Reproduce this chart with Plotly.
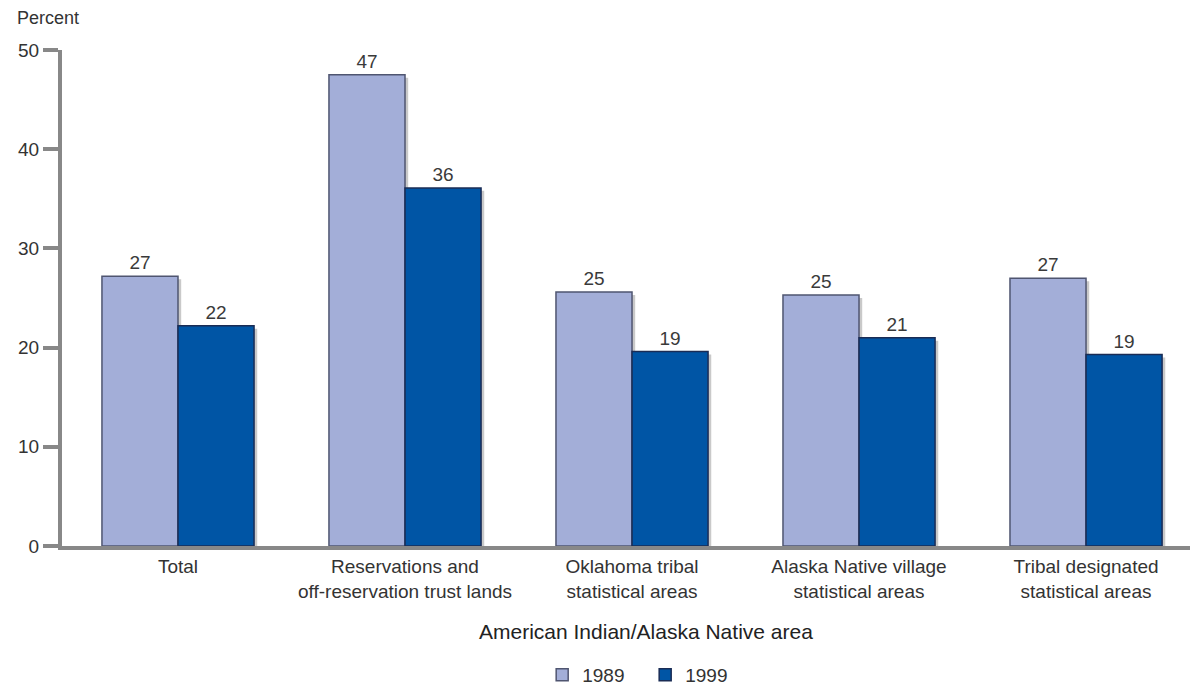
import plotly.graph_objects as go

categories = ["Total", "Reservations and<br>off-reservation trust lands",
              "Oklahoma tribal<br>statistical areas",
              "Alaska Native village<br>statistical areas",
              "Tribal designated<br>statistical areas"]
values_1989 = [27.2, 47.5, 25.6, 25.3, 27.0]
values_1999 = [22.2, 36.1, 19.6, 21.0, 19.3]
labels_1989 = ["27", "47", "25", "25", "27"]
labels_1999 = ["22", "36", "19", "21", "19"]
y_ticks = [0, 10, 20, 30, 40, 50]

x = list(range(len(categories)))
W = 0.335
SH = 0.014

fig = go.Figure()
# shadows
for vals, off in [(values_1989, -W + SH), (values_1999, SH)]:
    fig.add_trace(go.Bar(x=x, y=[v - 0.3 for v in vals], width=W, offset=off,
                         marker=dict(color="#c9c9c9", line=dict(width=0)),
                         showlegend=False, hoverinfo="skip"))
fig.add_trace(go.Bar(x=x, y=values_1989, width=W, offset=-W, name="1989",
                     marker=dict(color="#a3aed8", line=dict(color="#4f5570", width=1.5)),
                     text=labels_1989, textposition="outside", cliponaxis=False,
                     textfont=dict(size=19, color="#3a3a3a", family="Liberation Sans")))
fig.add_trace(go.Bar(x=x, y=values_1999, width=W, offset=0, name="1999",
                     marker=dict(color="#0055a5", line=dict(color="#1a2c55", width=1.5)),
                     text=labels_1999, textposition="outside", cliponaxis=False,
                     textfont=dict(size=19, color="#3a3a3a", family="Liberation Sans")))

fig.update_layout(
    width=1190, height=680,
    barmode="overlay",
    plot_bgcolor="white", paper_bgcolor="white",
    margin=dict(l=54, r=8, t=42, b=142, autoexpand=False),
    font=dict(family="Liberation Sans", color="#333333", size=19),
    showlegend=True,
    legend=dict(orientation="h", x=0.517, xanchor="center", y=-0.26, yanchor="middle",
                font=dict(size=19, color="#333333"), traceorder="normal",
                entrywidthmode="pixels", entrywidth=58),
    xaxis=dict(tickmode="array", tickvals=x, ticktext=categories,
               range=[-0.511, 4.458], showline=True, linecolor="#888888", linewidth=4,
               ticks="", showgrid=False, zeroline=False,
               tickfont=dict(size=19, color="#333333")),
    yaxis=dict(range=[0, 50], tickvals=y_ticks, showline=True, linecolor="#888888",
               linewidth=4, ticks="outside", ticklen=15, tickwidth=4, tickcolor="#888888",
               showgrid=False, zeroline=False,
               tickfont=dict(size=19, color="#333333")),
    annotations=[
        dict(text="American Indian/Alaska Native area", xref="paper", yref="paper",
             x=0.518, y=-0.173, xanchor="center", yanchor="middle", showarrow=False,
             font=dict(size=21, color="#222222")),
        dict(text="Percent", xref="paper", yref="paper", x=-0.042, y=1.064,
             xanchor="left", yanchor="middle", showarrow=False,
             font=dict(size=18, color="#333333")),
    ],
)
fig.write_html("out.html")
